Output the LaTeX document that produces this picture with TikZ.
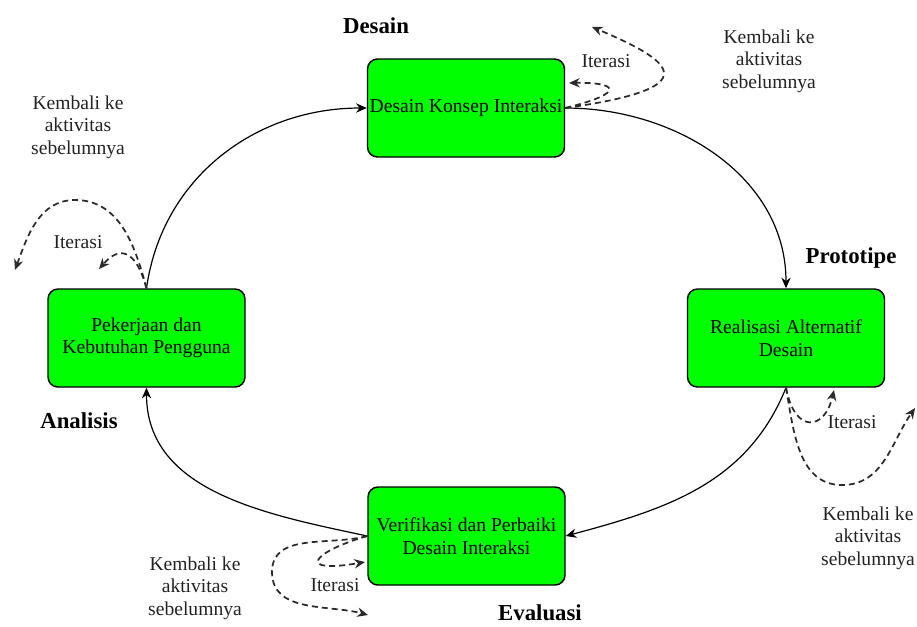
\documentclass[tikz,border=0pt]{standalone}
\usepackage{fontspec}
\setmainfont{Liberation Serif}
\usetikzlibrary{arrows.meta}
\definecolor{boxgreen}{HTML}{00FF00}
\definecolor{txtgray}{HTML}{222222}
\definecolor{dashgray}{HTML}{2A2A2A}
\tikzset{
  stagebox/.style={draw=black, line width=1.1pt, fill=boxgreen, rounded corners=7.5pt,
    minimum width=147.75pt, minimum height=73.5pt, align=center, inner sep=0pt,
    font=\fontsize{14.7}{16.9}\selectfont},
  flow/.style={line width=0.9pt, -{Stealth[length=8pt,width=7pt]}},
  loopline/.style={draw=dashgray, line width=1.3pt, dash pattern=on 4.5pt off 3pt,
    -{Stealth[length=8pt,width=7pt,fill=black]}},
  note/.style={text=txtgray, align=center, inner sep=0pt,
    font=\fontsize{14.7}{16.9}\selectfont},
  phase/.style={text=black, inner sep=0pt, font=\fontsize{17.1}{20}\selectfont\bfseries}
}
\begin{document}
\begin{tikzpicture}[x=0.75pt,y=0.75pt]
\useasboundingbox (0,0) rectangle (917,-626);
% stage boxes
\node[stagebox] (d) at (466,-108) {Desain Konsep Interaksi};
\node[stagebox] (p) at (146.5,-338) {Pekerjaan dan\\Kebutuhan Pengguna};
\node[stagebox] (r) at (786,-338) {Realisasi Alternatif\\Desain};
\node[stagebox] (v) at (466.5,-536) {Verifikasi dan Perbaiki\\Desain Interaksi};
% phase labels
\node[phase] (lbD) at (376,-26) {Desain};
\node[phase] (lbP) at (851,-258) {Prototipe};
\node[phase] (lbA) at (79,-421) {Analisis};
\node[phase] (lbE) at (540,-613) {Evaluasi};
% notes
\node[note] (itT) at (606,-61) {Iterasi};
\node[note] (kbT) at (769,-61) {Kembali ke\\aktivitas\\sebelumnya};
\node[note] (itL) at (78,-242) {Iterasi};
\node[note] (kbL) at (78,-127) {Kembali ke\\aktivitas\\sebelumnya};
\node[note] (itR) at (852,-422) {Iterasi};
\node[note] (kbR) at (868,-538) {Kembali ke\\aktivitas\\sebelumnya};
\node[note] (itB) at (335,-585) {Iterasi};
\node[note] (kbB) at (195,-588) {Kembali ke\\aktivitas\\sebelumnya};
% free ends of loops
\coordinate (eT1) at (569,-83);
\coordinate (eT2) at (592,-27);
\coordinate (eL1) at (99,-269);
\coordinate (eL2) at (15,-270);
\coordinate (mL) at (75,-200);
\coordinate (eR1) at (834,-390);
\coordinate (eR2) at (915,-408);
\coordinate (mR) at (842,-485);
\coordinate (eB1) at (365,-562);
\coordinate (eB2) at (368,-615);
\coordinate (mB) at (272,-572);
% main cycle
\draw[flow] (d.east) to[out=0,in=90] (r.north);
\draw[flow] (r.south) to[out=-112,in=15] (v.east);
\draw[flow] (v.west) to[out=168,in=-90] (p.south);
\draw[flow] (p.north) to[out=82,in=180] (d.west);
% loops top
\draw[loopline] (d.east) .. controls (630,-92) and (615,-82) .. (eT1);
\draw[loopline] (d.east) .. controls (708,-88) and (675,-62) .. (eT2);
% loops left
\draw[loopline] (p.north) .. controls (136,-250) and (120,-245) .. (eL1);
\draw[loopline] (p.north) to[out=105,in=0] (mL) to[out=180,in=70] (eL2);
% loops right
\draw[loopline] (r.south) .. controls (795,-435) and (825,-430) .. (eR1);
\draw[loopline] (r.south) to[out=-80,in=180] (mR) to[out=0,in=-125] (eR2);
% loops bottom
\draw[loopline] (v.west) .. controls (312,-552) and (295,-574) .. (eB1);
\draw[loopline] (v.west) to[out=195,in=90] (mB) to[out=-90,in=165] (eB2);
\end{tikzpicture}
\end{document}
